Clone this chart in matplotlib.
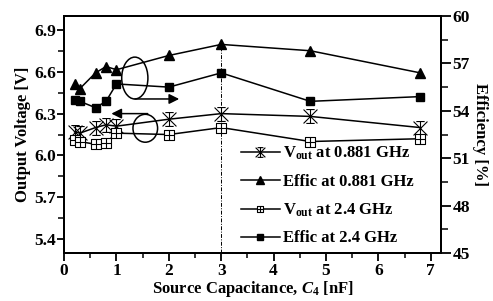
import matplotlib
matplotlib.use("Agg")
import matplotlib.pyplot as plt
from matplotlib.path import Path
from matplotlib.patches import Ellipse
from matplotlib.ticker import MultipleLocator

# source capacitance C4 [nF]
cap = [0.2, 0.3, 0.6, 0.8, 1.0, 2.0, 3.0, 4.7, 6.8]
vout_881 = [6.17, 6.16, 6.20, 6.22, 6.21, 6.26, 6.30, 6.28, 6.20]
vout_24 = [6.11, 6.10, 6.08, 6.09, 6.16, 6.15, 6.20, 6.10, 6.12]
effic_881 = [55.7, 55.4, 56.4, 56.8, 56.6, 57.5, 58.2, 57.8, 56.4]
effic_24 = [54.7, 54.6, 54.2, 54.6, 55.7, 55.5, 56.4, 54.6, 54.9]

plt.rcParams["font.family"] = ["Liberation Serif", "DejaVu Serif"]
plt.rcParams["font.weight"] = "bold"
plt.rcParams["mathtext.fontset"] = "custom"
plt.rcParams["mathtext.rm"] = "Liberation Serif:bold"
plt.rcParams["mathtext.bf"] = "Liberation Serif:bold"
plt.rcParams["mathtext.it"] = "Liberation Serif:italic:bold"

# marker shapes: X with bars, and boxed plus
star_x = Path(
    [(-1, -1), (1, 1), (-1, 1), (1, -1), (0, -1), (0, 1), (-0.6, 1), (0.6, 1), (-0.6, -1), (0.6, -1)],
    [Path.MOVETO, Path.LINETO] * 5,
)
box_plus = Path(
    [(-1, -1), (1, -1), (1, 1), (-1, 1), (-1, -1), (-1, 0), (1, 0), (0, -1), (0, 1)],
    [Path.MOVETO, Path.LINETO, Path.LINETO, Path.LINETO, Path.CLOSEPOLY,
     Path.MOVETO, Path.LINETO, Path.MOVETO, Path.LINETO],
)

fig = plt.figure(figsize=(4.93, 3.01), dpi=100)
ax = fig.add_axes([0.130, 0.159, 0.765, 0.788])
ax2 = ax.twinx()

l1, = ax.plot(cap, vout_881, color="black", lw=1.1, marker=star_x, ms=10,
              mfc="none", mec="black", mew=0.8, label=r"V$_{\mathbf{out}}$ at 0.881 GHz")
l3, = ax.plot(cap, vout_24, color="black", lw=1.1, marker=box_plus, ms=7,
              mfc="white", mec="black", mew=0.8, label=r"V$_{\mathbf{out}}$ at 2.4 GHz")
l2, = ax2.plot(cap, effic_881, color="black", lw=1.1, marker="^", ms=7.5,
               label="Effic at 0.881 GHz")
l4, = ax2.plot(cap, effic_24, color="black", lw=1.1, marker="s", ms=6,
               label="Effic at 2.4 GHz")

ax.plot([3, 3], [5.3, 6.8], color="black", lw=0.7, ls=(0, (4, 1.5, 1, 1.5)))

ax.add_patch(Ellipse((1.35, 6.555), 0.5, 0.3, fill=False, ec="black", lw=1.1))
ax.add_patch(Ellipse((1.55, 6.195), 0.47, 0.2, fill=False, ec="black", lw=1.1))
ax.annotate("", xy=(2.25, 6.405), xytext=(1.3, 6.405),
            arrowprops=dict(arrowstyle="-|>", color="black", lw=1.1, mutation_scale=15))
ax.annotate("", xy=(0.85, 6.3), xytext=(1.65, 6.3),
            arrowprops=dict(arrowstyle="-|>", color="black", lw=1.1, mutation_scale=15))

ax.set_xlim(0, 7.2)
ax.set_ylim(5.3, 7.0)
ax2.set_ylim(45, 60)
ax.xaxis.set_major_locator(MultipleLocator(1))
ax.xaxis.set_minor_locator(MultipleLocator(0.5))
ax.set_yticks([5.4, 5.7, 6.0, 6.3, 6.6, 6.9])
ax.yaxis.set_minor_locator(MultipleLocator(0.15))
ax2.set_yticks([45, 48, 51, 54, 57, 60])
ax2.yaxis.set_minor_locator(MultipleLocator(1.5))

for a in (ax, ax2):
    for s in a.spines.values():
        s.set_linewidth(1.4)
ax.tick_params(axis="x", which="major", direction="out", length=6, width=1.3, labelsize=12.5, pad=1)
ax.tick_params(axis="x", which="minor", direction="out", length=3.5, width=1.1)
ax.tick_params(axis="y", which="major", direction="out", length=5, width=1.3, labelsize=12.5, pad=1)
ax.tick_params(axis="y", which="minor", direction="out", length=4, width=1.1)
ax2.tick_params(axis="y", which="major", direction="out", length=7, width=1.3, labelsize=12.5, pad=1)
ax2.tick_params(axis="y", which="minor", direction="out", length=5, width=1.1)

ax.set_xlabel(r"Source Capacitance, $C_4$ [nF]", fontsize=12, fontweight="bold", labelpad=0)
ax.set_ylabel("Output Voltage [V]", fontsize=12, fontweight="bold", labelpad=2)
ax2.set_ylabel("Efficiency [%]", fontsize=12, fontweight="bold", rotation=270, labelpad=13)

ax2.legend(handles=[l1, l2, l3, l4], loc="lower left", bbox_to_anchor=(0.43, -0.035),
           frameon=False, fontsize=12, handlelength=2.3, handletextpad=0.2,
           labelspacing=0.7, markerscale=0.7)

fig.savefig("out.png", dpi=100)
